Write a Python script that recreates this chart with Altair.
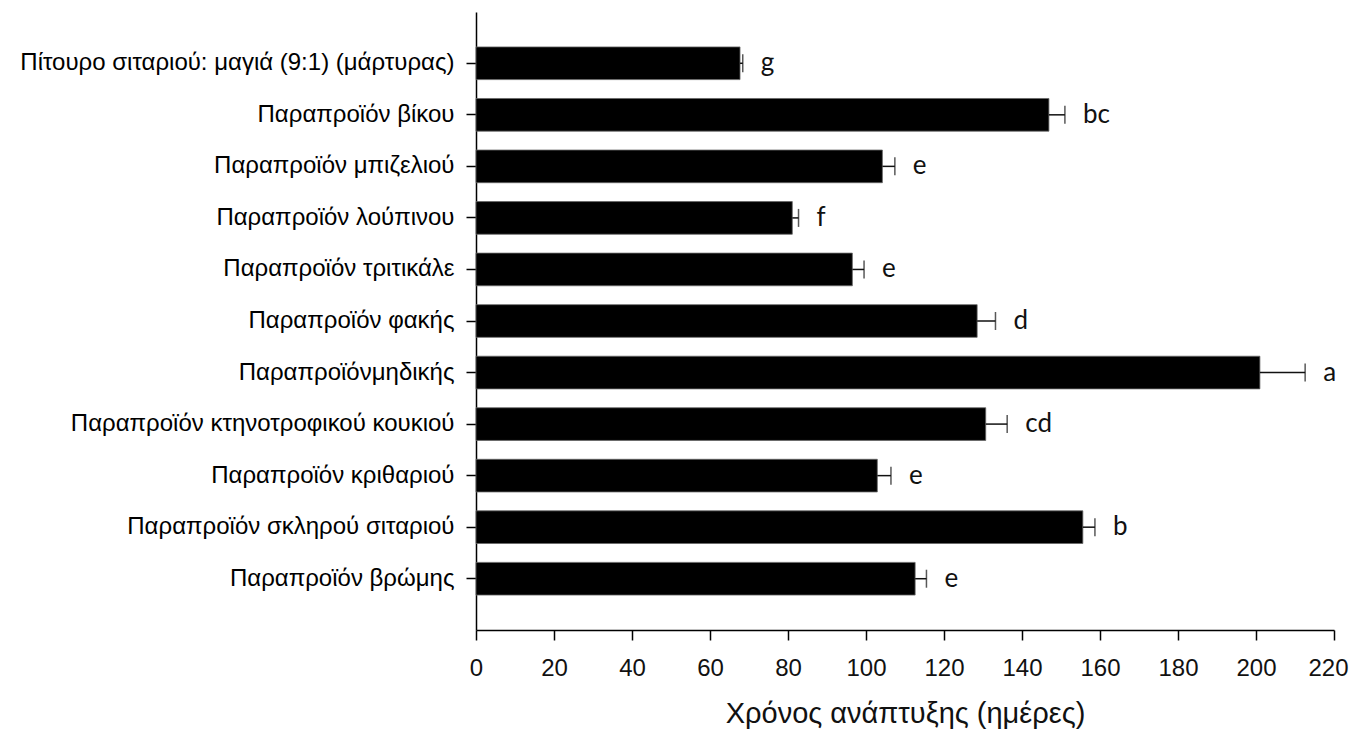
import altair as alt
import pandas as pd

categories = [
    "Πίτουρο σιταριού: μαγιά (9:1) (μάρτυρας)",
    "Παραπροϊόν βίκου",
    "Παραπροϊόν μπιζελιού",
    "Παραπροϊόν λούπινου",
    "Παραπροϊόν τριτικάλε",
    "Παραπροϊόν φακής",
    "Παραπροϊόνμηδικής",
    "Παραπροϊόν κτηνοτροφικού κουκιού",
    "Παραπροϊόν κριθαριού",
    "Παραπροϊόν σκληρού σιταριού",
    "Παραπροϊόν βρώμης",
]
means = [67.7, 146.9, 104.2, 81.1, 96.5, 128.5, 201.0, 130.7, 102.9, 155.6, 112.6]
errors = [0.7, 4.1, 3.2, 1.6, 3.0, 4.7, 11.6, 5.5, 3.5, 3.1, 2.9]
letters = ["g", "bc", "e", "f", "e", "d", "a", "cd", "e", "b", "e"]
x_ticks = list(range(0, 221, 20))

df = pd.DataFrame({"cat": categories, "mean": means, "err": errors, "letter": letters})
df["hi"] = df["mean"] + df["err"]

y_enc = alt.Y(
    "cat:N",
    sort=categories,
    title=None,
    scale=alt.Scale(paddingInner=0.366, paddingOuter=0.678),
    axis=alt.Axis(
        labelFont="Liberation Sans",
        labelFontSize=24,
        labelColor="#000",
        labelPadding=12,
        labelLimit=600,
        tickSize=10,
        tickColor="#000",
        tickWidth=1.5,
        domainColor="#000",
        domainWidth=1.5,
    ),
)

x_scale = alt.Scale(domain=[0, 220], nice=False, zero=True)

bars = alt.Chart(df).mark_bar(color="#000", stroke="#666", strokeWidth=0.8).encode(
    x=alt.X(
        "mean:Q",
        scale=x_scale,
        title="Χρόνος ανάπτυξης (ημέρες)",
        axis=alt.Axis(
            values=x_ticks,
            grid=False,
            labelFlush=False,
            labelOffset=alt.ExprRef("datum.value == 220 ? -6 : 0"),
            labelFont="Liberation Sans",
            labelFontSize=24,
            labelColor="#111",
            labelPadding=16,
            tickSize=10,
            tickColor="#000",
            tickWidth=1.5,
            domainColor="#000",
            domainWidth=1.5,
            titleFont="Liberation Sans",
            titleFontSize=29,
            titleFontWeight="normal",
            titleColor="#111",
            titlePadding=19,
        ),
    ),
    y=y_enc,
)

err_line = alt.Chart(df).mark_rule(color="#111", strokeWidth=1.5).encode(
    x="mean:Q", x2="hi:Q", y=alt.Y("cat:N", sort=categories)
)

err_cap = alt.Chart(df).mark_tick(color="#111", thickness=1.5, size=18, orient="vertical").encode(
    x="hi:Q", y=alt.Y("cat:N", sort=categories)
)

text = alt.Chart(df).mark_text(
    align="left", baseline="middle", dx=18, font="Lato", fontSize=26, color="#111"
).encode(x="hi:Q", y=alt.Y("cat:N", sort=categories), text="letter:N")

chart = (
    alt.layer(bars, err_line, err_cap, text)
    .properties(
        width=858,
        height=618,
        background="white",
        autosize=alt.AutoSizeParams(type="none"),
        padding={"left": 468, "top": 4, "right": 15, "bottom": 100},
    )
    .configure_view(strokeWidth=0, stroke="transparent")
)

chart.save("out.html", embed_options={"renderer": "svg", "actions": False})
